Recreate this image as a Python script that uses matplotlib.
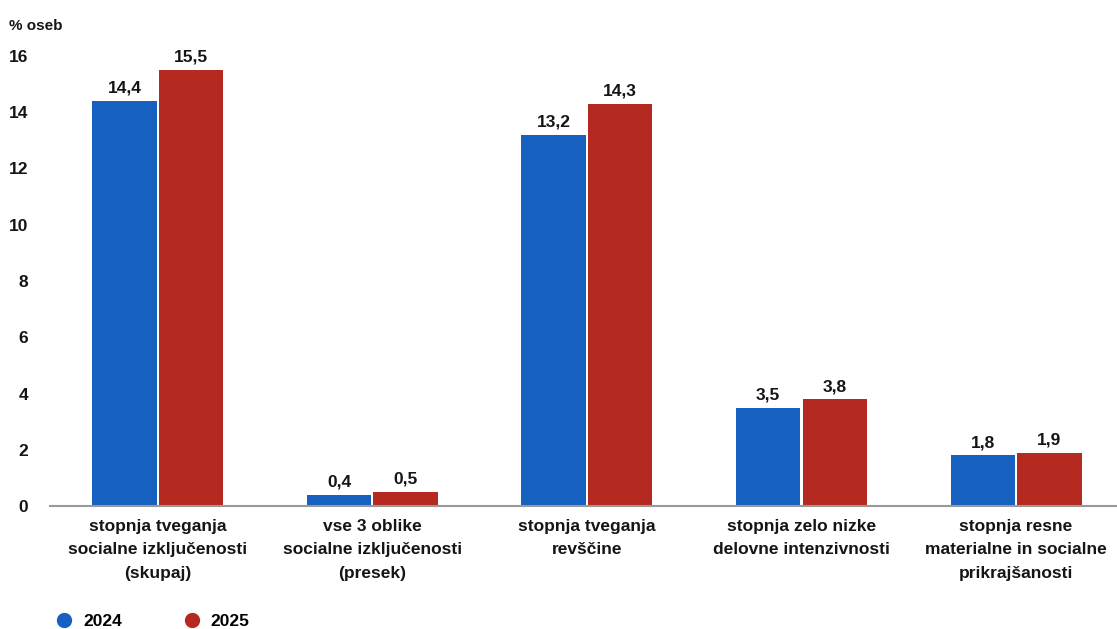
import numpy as np
import matplotlib.pyplot as plt
from matplotlib.lines import Line2D

plt.rcParams['font.family'] = ['Liberation Sans', 'DejaVu Sans']

categories = ['stopnja tveganja\nsocialne izključenosti\n(skupaj)',
              'vse 3 oblike\nsocialne izključenosti\n(presek)',
              'stopnja tveganja\nrevščine',
              'stopnja zelo nizke\ndelovne intenzivnosti',
              'stopnja resne\nmaterialne in socialne\nprikrajšanosti']
years = ['2024', '2025']
v2024 = [14.4, 0.4, 13.2, 3.5, 1.8]
v2025 = [15.5, 0.5, 14.3, 3.8, 1.9]
colors = ['#1660C0', '#B52A20']
txt = '#151515'

fig = plt.figure(figsize=(11.17, 6.29), dpi=100)
ax = fig.add_axes([0.045, 0.1955, 0.955, 0.7155])

x = np.arange(len(categories))
w = 0.30
for vals, off, c in [(v2024, -0.155, colors[0]), (v2025, 0.155, colors[1])]:
    bars = ax.bar(x + off, vals, w, color=c, zorder=2)
    for b, v in zip(bars, vals):
        ax.text(b.get_x() + b.get_width() / 2, v + 0.18, f'{v:.1f}'.replace('.', ','),
                ha='center', va='bottom', fontsize=12.5, fontweight='bold', color=txt)

ax.set_xlim(-0.5, 4.47)
ax.set_ylim(0, 16)
ax.set_yticks(range(0, 17, 2))
ax.set_xticks(x)
ax.set_xticklabels(categories, fontsize=12.8, fontweight='bold', color=txt, linespacing=1.72)
ax.tick_params(axis='both', length=0, labelsize=12.5, colors=txt)
for lab in ax.get_yticklabels():
    lab.set_fontweight('bold')
ax.tick_params(axis='x', pad=9)
ax.tick_params(axis='y', pad=16)
for s in ['top', 'right', 'left']:
    ax.spines[s].set_visible(False)
ax.spines['bottom'].set_color('#999999')
ax.spines['bottom'].set_linewidth(1.5)

fig.text(0.008, 0.958, '% oseb', fontsize=11, fontweight='bold', color=txt, va='center')

handles = [Line2D([], [], marker='o', linestyle='', markersize=10, color=c) for c in colors]
fig.legend(handles, years, loc='lower left', bbox_to_anchor=(0.028, -0.025), ncol=2,
           frameon=False, prop={'size': 12.5, 'weight': 'bold'},
           handletextpad=0.1, columnspacing=3.0)

fig.savefig('out.png', dpi=100)
